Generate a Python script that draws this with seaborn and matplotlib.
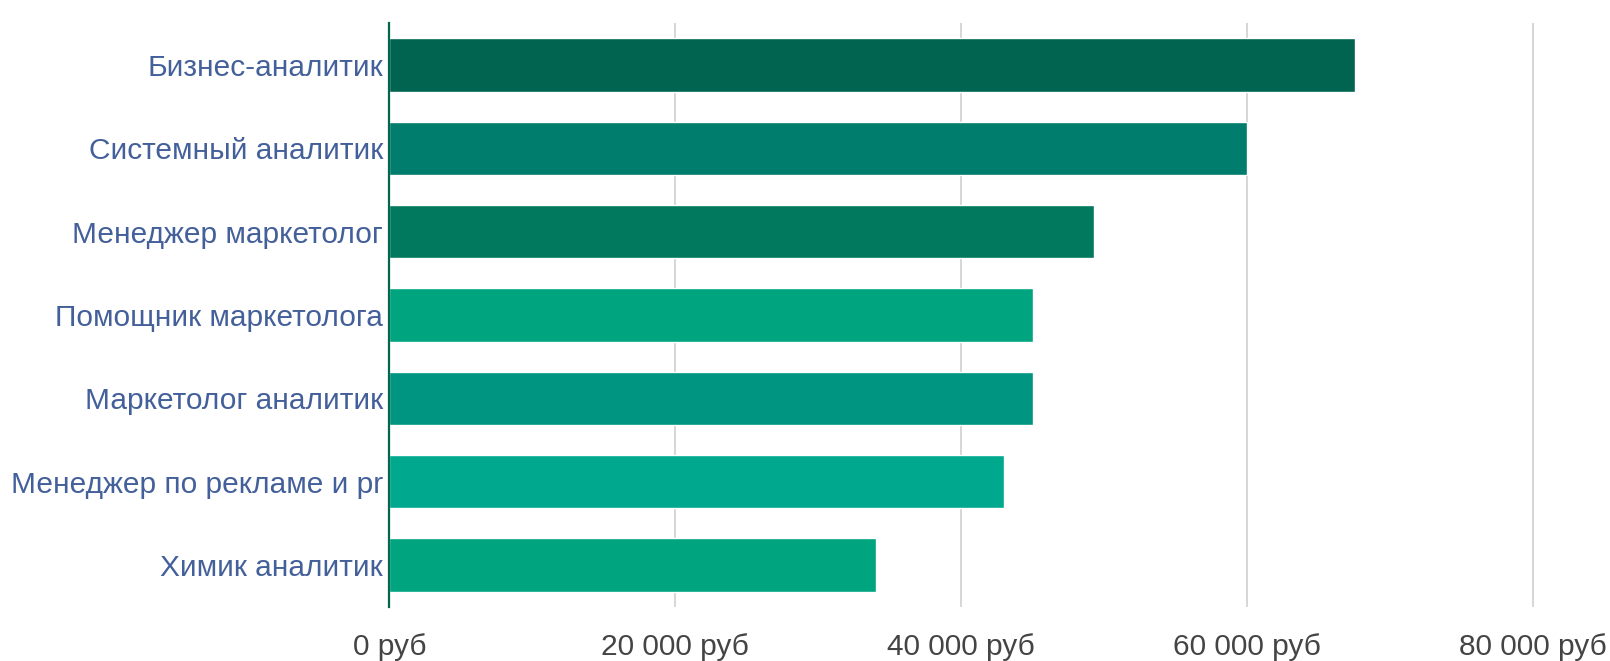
import matplotlib
matplotlib.use("Agg")
import matplotlib.pyplot as plt
import seaborn as sns
import pandas as pd
from matplotlib.ticker import FuncFormatter

categories = ["Бизнес-аналитик", "Системный аналитик", "Менеджер маркетолог",
              "Помощник маркетолога", "Маркетолог аналитик",
              "Менеджер по рекламе и pr", "Химик аналитик"]
salaries = [67500, 60000, 49300, 45000, 45000, 43000, 34000]
bar_colors = ["#006450", "#007D6C", "#00795E", "#00A47F", "#009580", "#00A88E", "#00A47F"]
x_ticks = [0, 20000, 40000, 60000, 80000]

df = pd.DataFrame({"job": categories, "salary": salaries})

sns.set_theme(style="white")
plt.rcParams['font.family'] = ['Liberation Sans', 'DejaVu Sans']

W, H = 1610, 661
fig = plt.figure(figsize=(W / 100, H / 100), dpi=100)
left_px, top_px, bottom_px = 389.3, 23.3, 606.7
px_per_unit = (1533.3 - 389.3) / 80000
xmax = 81000
ax = fig.add_axes([left_px / W, 1 - bottom_px / H,
                   xmax * px_per_unit / W, (bottom_px - top_px) / H])

sns.barplot(data=df, x="salary", y="job", hue="job", palette=bar_colors,
            orient="h", width=0.64, legend=False, ax=ax, saturation=1)

ax.set_xlim(0, xmax)
ax.set_ylim(6.5, -0.5)
ax.set_xticks(x_ticks)
ax.xaxis.set_major_formatter(FuncFormatter(
    lambda v, p: ("{:,.0f}".format(v).replace(",", " ") + " руб")))
ax.grid(axis="x", color="#cfcfcf", linewidth=1.2)
ax.grid(axis="y", visible=False)
ax.set_axisbelow(True)
for s in ["top", "right", "bottom"]:
    ax.spines[s].set_visible(False)
ax.spines["left"].set_color("#00664F")
ax.spines["left"].set_linewidth(1.6)
ax.set_xlabel("")
ax.set_ylabel("")
ax.tick_params(axis="x", length=0, pad=19, labelsize=21.5, labelcolor="#444444")
ax.tick_params(axis="y", length=0, pad=4.5, labelsize=21.5, labelcolor="#44609A")
for t in ax.get_xticklabels():
    t.set_clip_on(False)

fig.savefig("out.png", dpi=100, facecolor="white")
